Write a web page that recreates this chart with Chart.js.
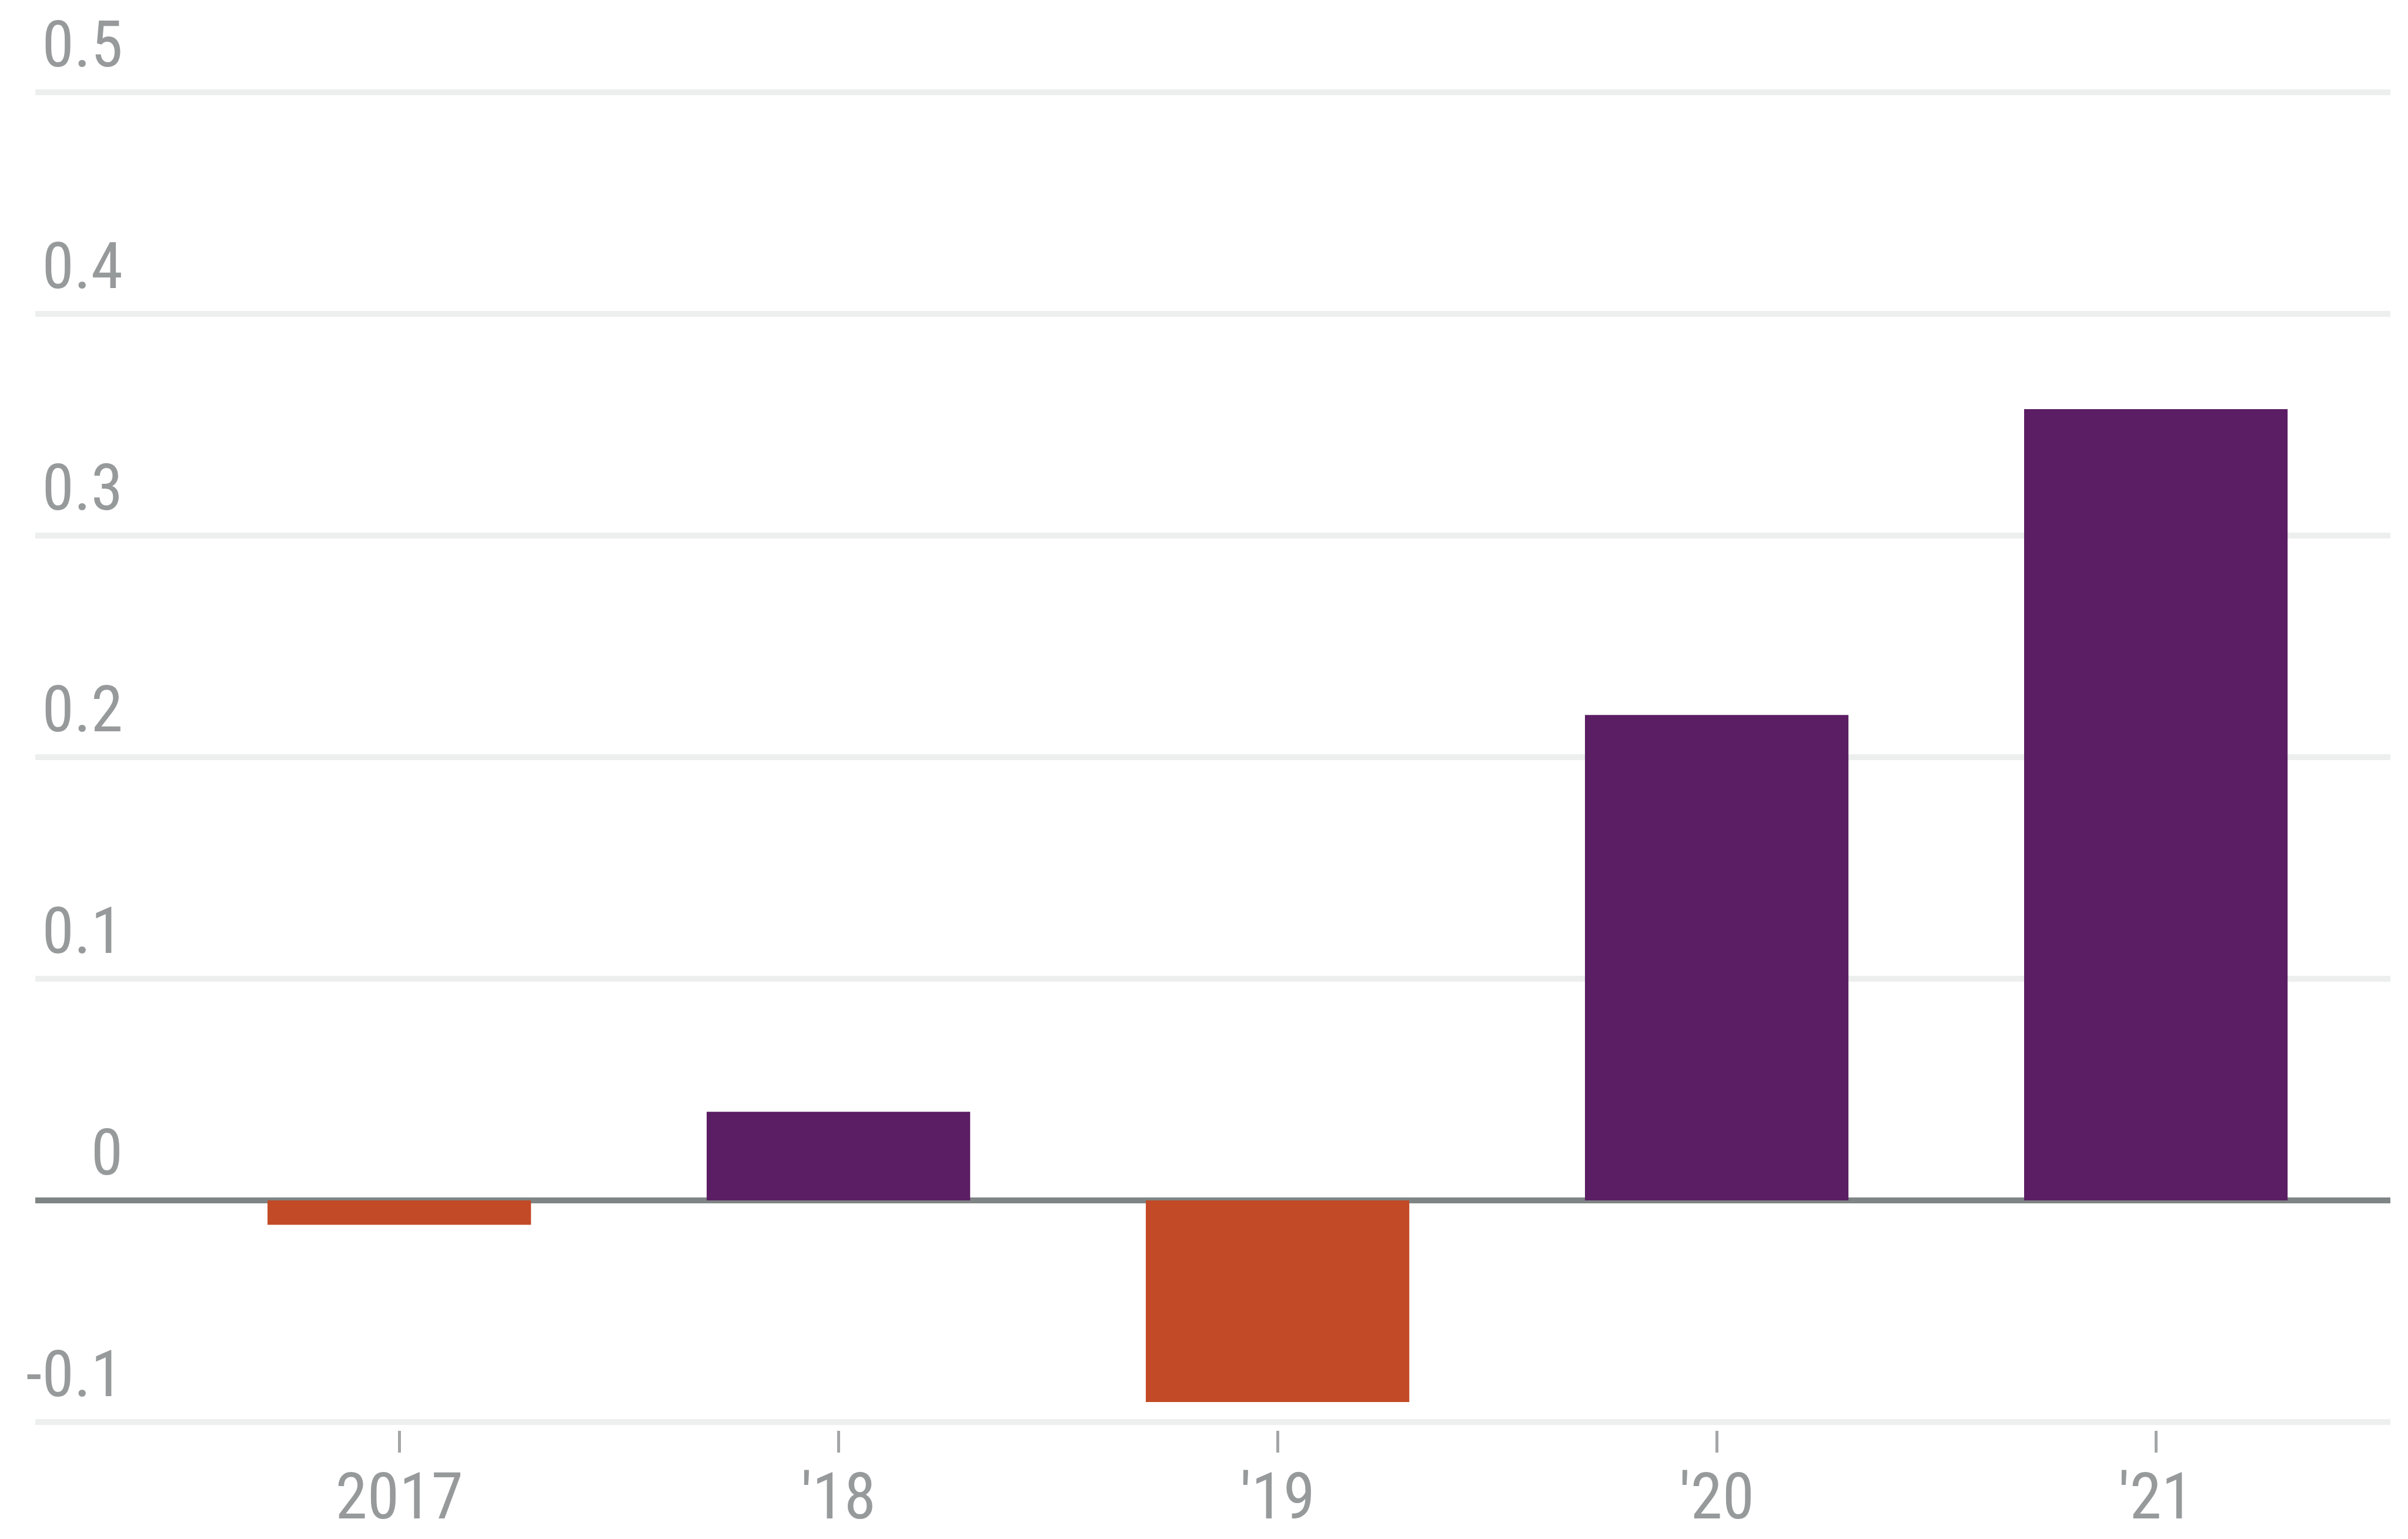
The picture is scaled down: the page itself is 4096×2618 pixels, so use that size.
<!DOCTYPE html>
<html>
<head>
<meta charset="utf-8">
<script src="https://cdn.jsdelivr.net/npm/chart.js@4.4.0/dist/chart.umd.min.js"></script>
<style>
  html, body { margin: 0; padding: 0; background: #fff; }
  #wrap { width: 4096px; height: 2618px; position: relative; }
</style>
</head>
<body>
<div id="wrap"><canvas id="myBarChart"></canvas></div>
<script>
// values
var years = ['2017', "'18", "'19", "'20", "'21"];
var change = [-0.011, 0.040, -0.091, 0.219, 0.357];
var yMin = -0.1;
var yMax = 0.5;
var yStep = 0.1;

var purple = '#5b1d64';
var orange = '#c24a26';
var labelGray = '#979a9b';
var gridGray = '#edefef';
var zeroGray = '#7f8585';
var labelFont = { family: '"Liberation Sans Narrow", "Roboto Condensed", "Liberation Sans", sans-serif', size: 110 };

function fmt(v) {
  if (Math.abs(v) < 1e-9) return '0';
  return v.toFixed(1);
}
function isZero(c) {
  return c.tick && Math.abs(c.tick.value) < 1e-9;
}

var ctx = document.getElementById('myBarChart');
var myBarChart = new Chart(ctx, {
  type: 'bar',
  data: {
    datasets: [{
      data: change.map(function (v, i) { return { x: i, y: v }; }),
      backgroundColor: function (c) {
        return c.raw && c.raw.y < 0 ? orange : purple;
      },
      borderWidth: 0,
      barPercentage: 0.6,
      categoryPercentage: 1.0,
    }],
  },
  options: {
    responsive: true,
    maintainAspectRatio: false,
    animation: false,
    layout: { padding: { left: 0, right: 30, top: 157, bottom: 0 } },
    plugins: {
      legend: { display: false },
      tooltip: { enabled: false },
    },
    scales: {
      x: {
        type: 'linear',
        min: -0.62,
        max: 4.534,
        offset: false,
        afterBuildTicks: function (axis) {
          axis.ticks = years.map(function (y, i) { return { value: i }; });
        },
        ticks: {
          callback: function (v) { return years[v]; },
          autoSkip: false,
          maxRotation: 0,
          padding: 18,
          color: labelGray,
          font: labelFont,
        },
        grid: {
          offset: false,
          drawOnChartArea: false,
          drawTicks: true,
          tickLength: 52,
          tickColor: '#a3a5a6',
          tickWidth: 5,
          tickBorderDash: [0, 15, 37, 100],
        },
        border: { display: false },
        afterFit: function (axis) { axis.height = 199; },
      },
      // gridlines run on through the tick marks to the left edge, labels sit on top of them
      y: {
        position: 'left',
        weight: 0,
        min: yMin,
        max: yMax,
        ticks: {
          stepSize: yStep,
          crossAlign: 'near',
          padding: -149,
          labelOffset: -72,
          callback: fmt,
          color: labelGray,
          font: labelFont,
        },
        grid: {
          color: function (c) { return isZero(c) ? 'rgba(0,0,0,0)' : gridGray; },
          lineWidth: 10,
          drawTicks: true,
          tickLength: 156,
        },
        border: { display: false },
        afterFit: function (axis) { axis.width = 216; },
      },
      // zero line, drawn over the bars
      zero: {
        position: 'left',
        weight: -1,
        min: yMin,
        max: yMax,
        z: 1,
        ticks: { display: false, stepSize: yStep },
        grid: {
          color: function (c) { return isZero(c) ? zeroGray : 'rgba(0,0,0,0)'; },
          lineWidth: 10,
          drawTicks: true,
          tickLength: 156,
        },
        border: { display: false },
        afterFit: function (axis) { axis.width = 0; },
      },
    },
  },
});
</script>
</body>
</html>
